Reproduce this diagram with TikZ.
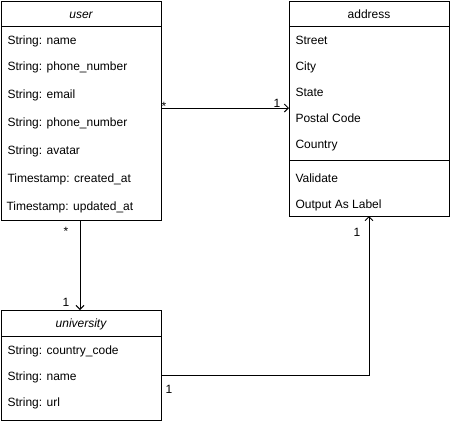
\documentclass[tikz,border=0pt]{standalone}
\usepackage{fontspec}
\setmainfont{Liberation Sans}
\usetikzlibrary{arrows.meta}
\begin{document}
\begin{tikzpicture}[x=1pt,y=-1pt,line width=1pt,
  box/.style={draw,anchor=north west,inner sep=0pt},
  fld/.style={anchor=base west,inner sep=0pt,font=\fontsize{12}{14}\selectfont},
  hdr/.style={anchor=base,inner sep=0pt,font=\fontsize{12}{14}\selectfont},
  mult/.style={anchor=base,inner sep=0pt,font=\fontsize{12}{14}\selectfont},
  arr/.style={-{Straight Barb[length=4pt,width=8pt,line width=1pt]}}]
\useasboundingbox (0,0) rectangle (450,421);
% user
\node[box,minimum width=160pt,minimum height=219pt] (user) at (1,1) {};
\draw (1,26) -- (161,26);
\node[hdr,font=\fontsize{12}{14}\selectfont\itshape] (userh) at (81,18.5) {user};
\node[fld] (u1) at (7,44.5) {String: name};
\node[fld] (u2) at (7,70.5) {String: phone\_number};
\node[fld] (u3) at (7,98.5) {String: email};
\node[fld] (u4) at (7,126.5) {String: phone\_number};
\node[fld] (u5) at (7,154.5) {String: avatar};
\node[fld] (u6) at (7,182.5) {Timestamp: created\_at};
\node[fld] (u7) at (6,210.5) {Timestamp: updated\_at};
% address
\node[box,minimum width=160pt,minimum height=215pt] (addr) at (289,1) {};
\draw (289,26) -- (449,26);
\draw (289,160) -- (449,160);
\node[hdr] (addrh) at (369,18.5) {address};
\node[fld] (a1) at (295,44) {Street};
\node[fld] (a2) at (295,70) {City};
\node[fld] (a3) at (295,96) {State};
\node[fld] (a4) at (295,122) {Postal Code};
\node[fld] (a5) at (295,148) {Country};
\node[fld] (a6) at (295,182) {Validate};
\node[fld] (a7) at (295,208) {Output As Label};
% university
\node[box,minimum width=160pt,minimum height=110pt] (univ) at (1,310) {};
\draw (1,336) -- (161,336);
\node[hdr,font=\fontsize{12}{14}\selectfont\itshape] (univh) at (81,327.5) {university};
\node[fld] (v1) at (7,354.5) {String: country\_code};
\node[fld] (v2) at (7,380.5) {String: name};
\node[fld] (v3) at (7,406) {String: url};
% connectors
\coordinate (ua) at (user.east |- 0,108);
\coordinate (au) at (addr.west |- 0,108);
\draw[arr] (ua) -- (au);
\coordinate (uv) at (80,220);
\coordinate (vu) at (80,310);
\draw[arr] (uv) -- (vu);
\coordinate (va) at (univ.east |- 0,375);
\coordinate (av) at (369,216);
\draw[arr] (va) -| (av);
% multiplicities
\node[mult] (m1) at (164,110) {*};
\node[mult] (m2) at (277,107) {1};
\node[mult] (m3) at (66,235) {*};
\node[mult] (m4) at (66,306) {1};
\node[mult] (m5) at (169,393) {1};
\node[mult] (m6) at (357,236) {1};
\end{tikzpicture}
\end{document}
